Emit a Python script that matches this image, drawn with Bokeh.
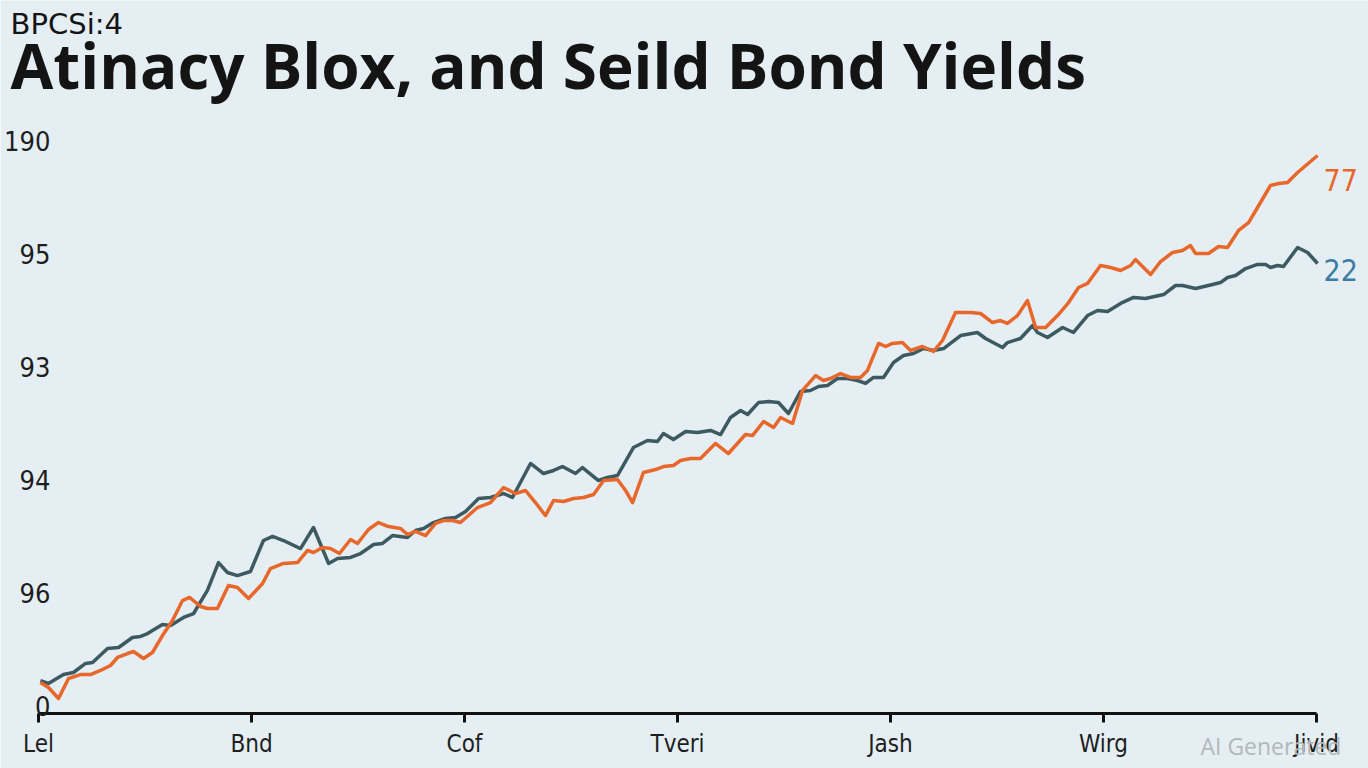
from bokeh.plotting import figure
from bokeh.models import Range1d, Label, FixedTicker
from bokeh.embed import file_html
from bokeh.resources import INLINE

# ---- data ----
x_ticks = [0, 10, 20, 30, 40, 50, 60]
x_tick_labels = ["Lel", "Bnd", "Cof", "Tveri", "Jash", "Wirg", "Jivid"]
y_ticks = [0, 10, 20, 30, 40, 50]
y_tick_labels = ["0", "96", "94", "93", "95", "190"]

dark_x = [0.09, 0.47, 1.17, 1.64, 2.21, 2.54, 3.24, 3.76, 4.41, 4.79, 5.12, 5.82, 6.20, 6.81, 7.28,
          7.93, 8.45, 8.87, 9.34, 9.95, 10.56, 10.99, 11.50, 12.30, 12.91, 13.62, 14.04, 14.65,
          15.12, 15.73, 16.15, 16.62, 17.32, 17.70, 18.08, 18.54, 19.11, 19.58, 20.05, 20.66,
          21.22, 21.83, 22.25, 23.10, 23.71, 24.18, 24.60, 25.21, 25.54, 26.29, 26.71, 27.18,
          27.93, 28.59, 29.06, 29.34, 29.81, 30.38, 30.94, 31.55, 32.02, 32.49, 32.96, 33.29,
          33.80, 34.27, 34.74, 35.21, 35.77, 36.24, 36.62, 37.04, 37.51, 37.98, 38.45, 38.83,
          39.20, 39.67, 40.14, 40.61, 41.08, 41.55, 42.02, 42.49, 43.29, 44.08, 44.46, 45.26,
          45.49, 46.10, 46.67, 46.90, 47.37, 48.08, 48.59, 49.25, 49.72, 50.19, 50.80, 51.41,
          51.97, 52.82, 53.38, 53.71, 54.32, 55.12, 55.49, 55.82, 56.20, 56.67, 57.23, 57.61,
          57.84, 58.17, 58.45, 59.11, 59.58, 60.05]
dark_y = [2.21, 1.95, 2.74, 2.92, 3.72, 3.81, 5.04, 5.13, 6.02, 6.11, 6.37, 7.17, 7.08, 7.79, 8.14,
          10.18, 12.65, 11.77, 11.50, 11.86, 14.60, 14.96, 14.60, 13.89, 15.75, 12.57, 13.01, 13.10,
          13.45, 14.25, 14.34, 15.04, 14.87, 15.49, 15.66, 16.19, 16.55, 16.64, 17.17, 18.32,
          18.41, 18.76, 18.41, 21.42, 20.53, 20.80, 21.15, 20.53, 21.06, 19.91, 20.18, 20.35,
          22.83, 23.45, 23.36, 24.07, 23.54, 24.25, 24.16, 24.34, 23.98, 25.49, 26.11, 25.75,
          26.81, 26.90, 26.81, 25.84, 27.79, 27.88, 28.23, 28.32, 28.94, 28.94, 28.76, 28.50,
          29.03, 29.03, 30.35, 30.97, 31.15, 31.59, 31.42, 31.59, 32.74, 33.01, 32.48, 31.68,
          32.12, 32.48, 33.63, 33.01, 32.57, 33.45, 33.01, 34.51, 34.96, 34.87, 35.58, 36.11,
          36.02, 36.37, 37.17, 37.17, 36.90, 37.26, 37.43, 37.88, 38.05, 38.67, 39.03, 39.03,
          38.76, 38.94, 38.85, 40.53, 40.09, 39.12]

orange_x = [0.09, 0.47, 0.94, 1.41, 1.97, 2.44, 2.91, 3.38, 3.71, 4.18,
            4.46, 4.93, 5.35, 5.82, 6.29, 6.76, 7.09, 7.61, 7.93, 8.40,
            8.92, 9.34, 9.86, 10.52, 10.89, 11.50, 12.16, 12.63, 12.91, 13.33,
            13.71, 14.13, 14.65, 14.98, 15.49, 15.96, 16.43, 17.00, 17.32, 17.70,
            18.17, 18.64, 19.01, 19.44, 19.81, 20.61, 21.22, 21.83, 22.39, 22.86,
            23.33, 23.80, 24.18, 24.65, 25.12, 25.59, 26.06, 26.53, 27.18, 27.56,
            27.89, 28.40, 28.97, 29.34, 29.81, 30.14, 30.61, 31.08, 31.78, 32.39,
            33.19, 33.52, 34.04, 34.51, 34.84, 35.40, 35.87, 36.48, 36.85, 37.18,
            37.65, 38.12, 38.59, 38.92, 39.44, 39.77, 40.09, 40.56, 40.94, 41.50,
            42.02, 42.44, 43.05, 43.76, 44.23, 44.79, 45.16, 45.49, 45.96, 46.43,
            46.81, 47.28, 47.84, 48.36, 48.83, 49.25, 49.86, 50.33, 50.80, 51.27,
            51.50, 52.21, 52.68, 53.24, 53.71, 54.08, 54.32, 54.93, 55.40, 55.82,
            56.34, 56.81, 57.23, 57.84, 58.22, 58.64, 59.11, 60.05]
orange_y = [2.04, 1.59, 0.62, 2.39, 2.74, 2.74, 3.10, 3.54, 4.25, 4.60,
            4.78, 4.16, 4.69, 6.19, 7.52, 9.29, 9.56, 8.76, 8.58, 8.58,
            10.62, 10.44, 9.47, 10.80, 12.12, 12.57, 12.65, 13.72, 13.54, 13.98,
            13.89, 13.45, 14.69, 14.34, 15.58, 16.19, 15.84, 15.66, 15.13, 15.40,
            15.04, 16.11, 16.37, 16.37, 16.19, 17.52, 17.96, 19.29, 18.76, 19.03,
            17.96, 16.81, 18.14, 18.05, 18.32, 18.41, 18.67, 19.91, 20.00, 19.03,
            17.96, 20.62, 20.88, 21.15, 21.24, 21.68, 21.86, 21.86, 23.19, 22.30,
            23.98, 23.89, 25.13, 24.60, 25.49, 24.96, 27.88, 29.20, 28.76, 28.94,
            29.38, 29.03, 29.03, 29.65, 32.04, 31.77, 32.04, 32.12, 31.42, 31.77,
            31.33, 32.30, 34.78, 34.78, 34.69, 33.89, 34.07, 33.81, 34.51, 35.84,
            33.45, 33.45, 34.51, 35.66, 36.99, 37.35, 38.94, 38.76, 38.50, 38.94,
            39.47, 38.14, 39.29, 40.09, 40.27, 40.71, 40.00, 40.00, 40.62, 40.53,
            42.04, 42.74, 44.07, 46.02, 46.19, 46.28, 47.17, 48.67]

end_labels = ["77", "22"]
title_text = "Atinacy Blox, and Seild Bond Yields"
subtitle_text = "BPCSi:4"
watermark_text = "AI Generated"

# ---- style ----
BG = "#e5eef2"
ORANGE = "#e8672a"
DARK = "#3d5a61"
BLUE = "#3b7ca3"
NARROW = "DejaVu Sans Condensed"

p = figure(width=1368, height=768, output_backend="svg", toolbar_location=None,
           title=None,
           x_range=Range1d(-1.784, 62.44), y_range=Range1d(-5.575, 62.39),
           min_border_left=0, min_border_right=0, min_border_top=0, min_border_bottom=0,
           background_fill_color=BG, border_fill_color=BG, outline_line_color=None)

p.grid.grid_line_color = None

# y axis drawn inside the frame, just left of the first x position
p.yaxis.fixed_location = 0.56
p.yaxis.ticker = FixedTicker(ticks=y_ticks)
p.yaxis.major_label_overrides = {t: s for t, s in zip(y_ticks, y_tick_labels)}
p.yaxis.axis_line_color = None
p.yaxis.major_tick_line_color = None
p.yaxis.minor_tick_line_color = None
p.yaxis.major_tick_out = 0
p.yaxis.major_tick_in = 0
p.yaxis.major_label_standoff = 0
p.yaxis.major_label_text_font = NARROW
p.yaxis.major_label_text_font_size = "27px"
p.yaxis.major_label_text_color = "#1e1e1e"

# x axis: baseline just below zero
p.xaxis.fixed_location = -0.7
p.xaxis.ticker = FixedTicker(ticks=x_ticks)
p.xaxis.major_label_overrides = {t: s for t, s in zip(x_ticks, x_tick_labels)}
p.xaxis.bounds = (0, 60)
p.xaxis.axis_line_color = "#111111"
p.xaxis.axis_line_width = 3
p.xaxis.major_tick_line_color = "#111111"
p.xaxis.major_tick_line_width = 3
p.xaxis.major_tick_out = 9
p.xaxis.major_tick_in = 0
p.xaxis.minor_tick_line_color = None
p.xaxis.major_label_standoff = 8
p.xaxis.major_label_text_font = NARROW
p.xaxis.major_label_text_font_size = "24px"
p.xaxis.major_label_text_color = "#1e1e1e"

p.line(dark_x, dark_y, line_color=DARK, line_width=3.5, line_join="round")
p.line(orange_x, orange_y, line_color=ORANGE, line_width=3.5, line_join="round")

p.add_layout(Label(x=orange_x[-1], y=orange_y[-1], x_offset=6, y_offset=-24, text=end_labels[0],
                   text_color=ORANGE, text_font=NARROW, text_font_size="30px",
                   text_baseline="middle", text_align="left"))
p.add_layout(Label(x=dark_x[-1], y=dark_y[-1], x_offset=6, y_offset=-7, text=end_labels[1],
                   text_color=BLUE, text_font=NARROW, text_font_size="30px",
                   text_baseline="middle", text_align="left"))

# titles and watermark (placed in the top / bottom margins of the frame)
p.add_layout(Label(x=-1.31, y=60.30, text=subtitle_text, text_color="#141414",
                   text_font="DejaVu Sans", text_font_size="29px",
                   text_baseline="alphabetic", text_align="left"))
p.add_layout(Label(x=-1.31, y=56.64, text=title_text, text_color="#141414",
                   text_font="Open Sans", text_font_style="bold", text_font_size="62px",
                   text_baseline="alphabetic", text_align="left"))
p.add_layout(Label(x=54.55, y=-3.54, text=watermark_text, text_color="#b4b8ba",
                   text_font="Open Sans", text_font_size="23px",
                   text_baseline="alphabetic", text_align="left"))

open("out.html", "w").write(file_html(p, INLINE))
